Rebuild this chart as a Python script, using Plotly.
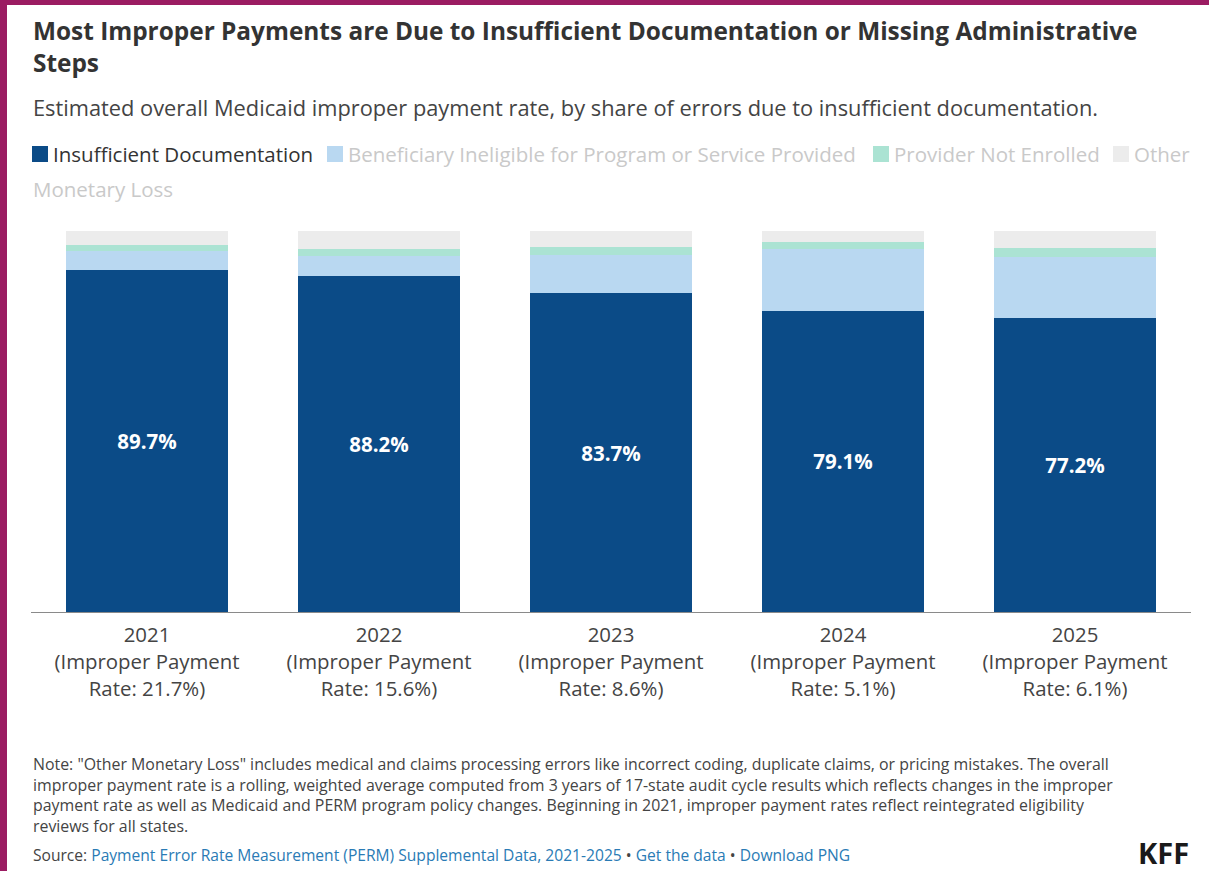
import plotly.graph_objects as go

# ---- data ----
years = ["2021", "2022", "2023", "2024", "2025"]
overall_rates = ["21.7%", "15.6%", "8.6%", "5.1%", "6.1%"]
insufficient_doc = [89.7, 88.2, 83.7, 79.1, 77.2]
beneficiary_inelig = [5.1, 5.3, 10.0, 16.1, 15.9]
provider_not_enrolled = [1.5, 1.8, 2.2, 2.0, 2.5]
other_monetary = [3.7, 4.7, 4.1, 2.8, 4.4]

series_names = ["Insufficient Documentation",
                "Beneficiary Ineligible for Program or Service Provided",
                "Provider Not Enrolled",
                "Other Monetary Loss"]
series_colors = ["#0b4b87", "#b9d8f1", "#abe3d3", "#ececec"]

tick_labels = [f"{y}<br>(Improper Payment<br>Rate: {r})" for y, r in zip(years, overall_rates)]

FONT = "Open Sans"
W, H = 1209, 871
L, R, T, B = 31, 18, 231, 259
PW, PH = W - L - R, H - T - B


def px(x):
    return (x - L) / PW


def py(y):
    return (H - B - y) / PH


fig = go.Figure()
all_series = [insufficient_doc, beneficiary_inelig, provider_not_enrolled, other_monetary]
for i, (name, vals, col) in enumerate(zip(series_names, all_series, series_colors)):
    fig.add_trace(go.Bar(
        x=years, y=vals, name=name, marker=dict(color=col, line=dict(width=0)),
        text=[f"{v:.1f}%" for v in vals] if i == 0 else None,
        textposition="inside" if i == 0 else "none",
        insidetextanchor="middle",
        textfont=dict(family=FONT, size=20.5, color="white", weight="bold"),
        showlegend=False,
    ))

fig.update_layout(
    barmode="stack", bargap=0.3,
    width=W, height=H,
    margin=dict(l=L, r=R, t=T, b=B),
    paper_bgcolor="white", plot_bgcolor="white",
    font=dict(family=FONT, color="#333333"),
    xaxis=dict(tickmode="array", tickvals=years, ticktext=tick_labels,
               tickfont=dict(family=FONT, size=20.4, color="#444444"),
               showline=True, linecolor="#8a8a8a", linewidth=1,
               ticks="", showgrid=False, ticklabelstandoff=5),
    yaxis=dict(range=[0, 100], visible=False, showgrid=False),
    uniformtext=dict(mode="show", minsize=10),
)

ann = []
shapes = []
# title
ann.append(dict(text="<b>Most Improper Payments are Due to Insufficient Documentation or Missing Administrative<br>Steps</b>",
                x=px(31), y=py(12), xanchor="left", yanchor="top", align="left",
                font=dict(family=FONT, size=24.4, color="#333333")))
ann.append(dict(text="Estimated overall Medicaid improper payment rate, by share of errors due to insufficient documentation.",
                x=px(31), y=py(107), xanchor="left", yanchor="middle", align="left",
                font=dict(family=FONT, size=21.8, color="#444444")))
# custom legend
legend_items = [(32, 154, series_names[0], "#333333"),
                (327, 154, series_names[1], "#c9c9c9"),
                (873, 154, series_names[2], "#c9c9c9"),
                (1113, 154, "Other", "#c9c9c9")]
for (x0, yc, label, tcol), col in zip(legend_items, series_colors):
    shapes.append(dict(type="rect", xref="paper", yref="paper",
                       x0=px(x0), x1=px(x0 + 16), y0=py(yc + 8), y1=py(yc - 8),
                       fillcolor=col, line=dict(width=0)))
    ann.append(dict(text=label, x=px(x0 + 19), y=py(yc), xanchor="left", yanchor="middle",
                    font=dict(family=FONT, size=20.5, color=tcol)))
ann.append(dict(text="Monetary Loss", x=px(31), y=py(189), xanchor="left", yanchor="middle",
                font=dict(family=FONT, size=20.5, color="#c9c9c9")))
# note
note = ("Note: \"Other Monetary Loss\" includes medical and claims processing errors like incorrect coding, duplicate claims, or pricing mistakes. The overall<br>"
        "improper payment rate is a rolling, weighted average computed from 3 years of 17-state audit cycle results which reflects changes in the improper<br>"
        "payment rate as well as Medicaid and PERM program policy changes. Beginning in 2021, improper payment rates reflect reintegrated eligibility<br>"
        "reviews for all states.")
ann.append(dict(text=note, x=px(31), y=py(751), xanchor="left", yanchor="top", align="left",
                font=dict(family=FONT, size=15.9, color="#444444")))
link = "#2a7bb5"
src = (f"Source: <span style='color:{link}'>Payment Error Rate Measurement (PERM) Supplemental Data, 2021-2025</span>"
       f" • <span style='color:{link}'>Get the data</span> • <span style='color:{link}'>Download PNG</span>")
ann.append(dict(text=src, x=px(31), y=py(855), xanchor="left", yanchor="middle", align="left",
                font=dict(family=FONT, size=15.6, color="#444444")))
ann.append(dict(text="<b>KFF</b>", x=px(1191), y=py(852), xanchor="right", yanchor="middle",
                font=dict(family=FONT, size=29, color="#1a1a1a")))
for a in ann:
    a.setdefault("xref", "paper")
    a.setdefault("yref", "paper")
    a["showarrow"] = False
# magenta frame (left and top)
shapes.append(dict(type="rect", xref="paper", yref="paper", x0=px(0), x1=px(7), y0=py(H), y1=py(0),
                   fillcolor="#9b1c62", line=dict(width=0), layer="above"))
shapes.append(dict(type="rect", xref="paper", yref="paper", x0=px(0), x1=px(W), y0=py(5), y1=py(0),
                   fillcolor="#9b1c62", line=dict(width=0), layer="above"))
fig.update_layout(annotations=ann, shapes=shapes)

fig.write_html("out.html")
